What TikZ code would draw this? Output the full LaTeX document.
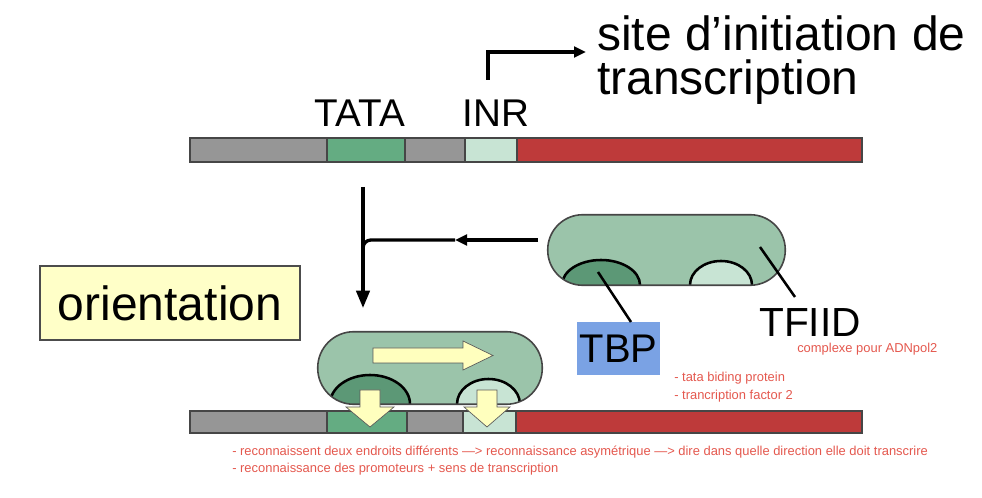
\documentclass[tikz,border=0pt]{standalone}
\usepackage{fontspec}
\setmainfont{Liberation Sans}
\usetikzlibrary{arrows.meta}
\definecolor{dnagray}{RGB}{150,150,150}
\definecolor{tatag}{RGB}{100,172,130}
\definecolor{inrg}{RGB}{200,228,212}
\definecolor{dnared}{RGB}{190,58,58}
\definecolor{pillfill}{RGB}{155,196,170}
\definecolor{darkdome}{RGB}{92,152,118}
\definecolor{lightdome}{RGB}{200,228,212}
\definecolor{yelfill}{RGB}{255,255,190}
\definecolor{orientfill}{RGB}{255,255,200}
\definecolor{tbpblue}{RGB}{122,162,228}
\definecolor{notered}{RGB}{228,88,78}
\definecolor{edgegray}{RGB}{70,70,70}
\tikzset{
  seg/.style={draw=edgegray, line width=0.9pt},
  pillbody/.style={fill=pillfill},
  pilledge/.style={draw=edgegray, line width=1.2pt},
  domeline/.style={draw=black, line width=1.9pt},
  blkline/.style={draw=black, line width=2.5pt},
  tipbig/.style={-{Triangle[length=13pt,width=10pt]}},
  tipsmall/.style={-{Triangle[length=9pt,width=8pt]}},
  yarrow/.style={fill=yelfill, draw=gray!70!black, line width=0.5pt},
  bigtxt/.style={font=\fontsize{36}{33}\selectfont, inner sep=0},
  midtxt/.style={font=\fontsize{29}{30}\selectfont, inner sep=0},
  notetxt/.style={font=\fontsize{9.7}{11}\selectfont, text=notered, inner sep=0},
  pointer/.style={draw=black, line width=1.9pt},
}
\begin{document}
\begin{tikzpicture}[x=0.75pt,y=-0.75pt]
\useasboundingbox (0,0) rectangle (982,498);

% ---- top DNA
\foreach \a/\b/\c in {190/327/dnagray,327/405/tatag,405/465/dnagray,465/517/inrg,517/862/dnared}
  \draw[seg, fill=\c] (\a,138) rectangle (\b,162);
\node[midtxt, anchor=base] (tata) at (360,127) {TATA};
\node[midtxt, anchor=base] (inr) at (496,127) {INR};

% ---- transcription start site
\node[bigtxt, align=left, anchor=north west] (site) at (597,15) {site d’initiation de\\transcription};
\coordinate (tssfoot) at (488,80);
\coordinate (tsstip) at (586,52);
\draw[blkline, tipsmall] (tssfoot) |- (tsstip);

% ---- TFIID (free)
\node[minimum width=177.75pt, minimum height=52.5pt, inner sep=0] (tfiid) at (666.5,250) {};
\fill[pillbody, rounded corners=26.25pt] (tfiid.south west) rectangle (tfiid.north east);
\begin{scope}
  \clip[rounded corners=26.25pt] (tfiid.south west) rectangle (tfiid.north east);
  \draw[domeline, fill=darkdome] (562,285) arc[start angle=180,end angle=0,x radius=29.25pt,y radius=18.75pt];
  \draw[domeline, fill=lightdome] (690,285) arc[start angle=180,end angle=0,x radius=23.25pt,y radius=18pt];
\end{scope}
\draw[pilledge, rounded corners=26.25pt] (tfiid.south west) rectangle (tfiid.north east);

\node[midtxt, font=\fontsize{30.5}{30}\selectfont, anchor=base west] (tfiidlbl) at (759,337) {TFIID};
\node[notetxt, anchor=base west] (cplx) at (797,353) {complexe pour ADNpol2};
\coordinate (tfiidpt) at (760,247);
\coordinate (tfiidend) at (795,297);
\draw[pointer] (tfiidpt) -- (tfiidend);

\node[fill=tbpblue, minimum width=62.25pt, minimum height=39.75pt, inner sep=0,
      font=\fontsize{30}{30}\selectfont] (tbp) at (618.5,348.5) {TBP};
\coordinate (tbppt) at (598,272);
\coordinate (tbpend) at (631,322);
\draw[pointer] (tbppt) -- (tbpend);
\node[notetxt, anchor=base west] (n1) at (674,382) {- tata biding protein};
\node[notetxt, anchor=base west] (n2) at (674,400) {- trancription factor 2};

% ---- binding arrows
\coordinate (hstart) at (538,240);
\coordinate (hmid) at (455,240);
\coordinate (vtop) at (363,187);
\coordinate (vbot) at (363,308);
\draw[blkline, tipbig] (vtop) -- (vbot);
\draw[blkline, tipsmall] (hstart) -- (hmid);
\draw[blkline, rounded corners=6pt] (hmid) -- (363,240) -- (363,262);

% ---- orientation
\node[fill=orientfill, draw=gray!60!black, line width=1pt, minimum width=195pt,
      minimum height=55.5pt, inner sep=0, font=\fontsize{36}{30}\selectfont] (orient) at (170,303) {orientation};

% ---- bottom DNA
\foreach \a/\b/\c in {190/327/dnagray,327/407/tatag,407/463/dnagray,463/516/inrg,516/862/dnared}
  \draw[seg, fill=\c] (\a,411) rectangle (\b,433);

% ---- bound TFIID
\node[minimum width=168pt, minimum height=54pt, inner sep=0] (bound) at (430,368) {};
\fill[pillbody, rounded corners=27pt] (bound.south west) rectangle (bound.north east);
\begin{scope}
  \clip[rounded corners=27pt] (bound.south west) rectangle (bound.north east);
  \draw[domeline, fill=darkdome] (330,404) arc[start angle=180,end angle=0,x radius=30pt,y radius=21.75pt];
  \draw[domeline, fill=lightdome] (457,404) arc[start angle=180,end angle=0,x radius=23.6pt,y radius=18.75pt];
\end{scope}
\draw[pilledge, rounded corners=27pt] (bound.south west) rectangle (bound.north east);

\draw[yarrow] (373,348) -- (463,348) -- (463,341) -- (493,355.5) -- (463,370) -- (463,363) -- (373,363) -- cycle;
\draw[yarrow] (360,390) -- (380,390) -- (380,407) -- (394,407) -- (370,427) -- (346,407) -- (360,407) -- cycle;
\draw[yarrow] (477,390) -- (497,390) -- (497,407) -- (510,407) -- (487,427) -- (464,407) -- (477,407) -- cycle;

% ---- notes
\node[notetxt, anchor=base west] (r1) at (232,456) {- reconnaissent deux endroits différents —> reconnaissance asymétrique —> dire dans quelle direction elle doit transcrire};
\node[notetxt, anchor=base west] (r2) at (232,473) {- reconnaissance des promoteurs + sens de transcription};
\end{tikzpicture}
\end{document}
